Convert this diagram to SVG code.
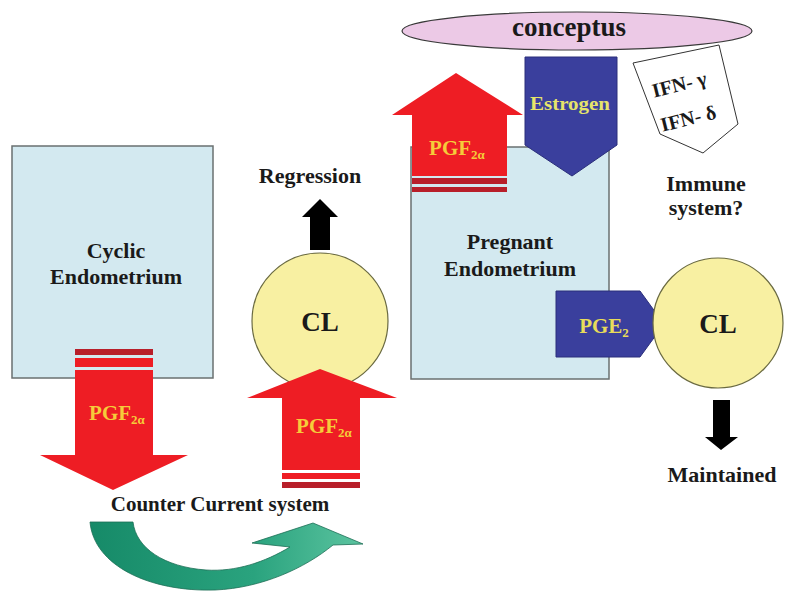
<svg xmlns="http://www.w3.org/2000/svg" width="787" height="592" viewBox="0 0 787 592">
<defs>
<linearGradient id="teal" x1="0" y1="0" x2="1" y2="0">
<stop offset="0" stop-color="#168a68"/>
<stop offset="0.6" stop-color="#2aa37e"/>
<stop offset="1" stop-color="#5cc4a0"/>
</linearGradient>
<style>
text{font-family:"Liberation Serif","Times New Roman",serif;font-weight:bold;text-anchor:middle}
.dark{fill:#1a1a1a}
.lbl{font-size:22px}
.box{fill:#d3e9f0;stroke:#6a7070;stroke-width:1.5}
.circ{fill:#f8f0a2;stroke:#6a6a40;stroke-width:1.2}
.red{fill:#ee1d24}
.stripe{fill:#b81f2a}
.blue{fill:#3a3f9d;stroke:#2a2e7a;stroke-width:1}
.pgf{fill:#f5cc3a;font-size:21px}
.sub{font-size:13px}
</style>
</defs>
<rect width="787" height="592" fill="#ffffff"/>

<g id="cyclic-endometrium">
<rect class="box" x="12" y="146" width="201" height="232"/>
<text class="dark lbl" x="116" y="258">Cyclic</text>
<text class="dark lbl" x="116" y="284">Endometrium</text>
</g>

<g id="pgf-down">
<rect class="stripe" x="75" y="349" width="78" height="6"/>
<rect class="red" x="75" y="358" width="78" height="9"/>
<path class="red" d="M75,370 H153 V455 H188 L113,490 L40,455 H75 Z"/>
<text class="pgf" x="117" y="420">PGF<tspan class="sub" dy="4">2α</tspan></text>
</g>

<g id="cl-left">
<circle class="circ" cx="320" cy="321" r="68"/>
<text class="dark" x="320" y="331" font-size="27">CL</text>
</g>

<g id="pgf-up">
<path class="red" d="M320,369 L397,398 H360 V470 H282 V398 H247 Z"/>
<rect class="red" x="282" y="473" width="78" height="6"/>
<rect class="stripe" x="282" y="482" width="78" height="6"/>
<text class="pgf" x="324" y="433">PGF<tspan class="sub" dy="4">2α</tspan></text>
</g>

<g id="regression">
<text class="dark lbl" x="310" y="183">Regression</text>
<path fill="#000" d="M320,199 L338,217 H330 V250 H310 V217 H302 Z"/>
</g>

<g id="counter-current">
<text class="dark" x="220" y="511" font-size="21">Counter Current system</text>
<path fill="url(#teal)" stroke="#1d6e55" stroke-width="0.8" d="M90,522 C94,566 150,592 215,590 C262,588 305,568 333,545 L363,544 L313,523 L252,543 L290,547 C265,562 236,572 206,570 C164,567 136,548 133,522 Z"/>
</g>

<g id="pregnant-endometrium">
<rect class="box" x="411" y="147" width="198" height="232"/>
<text class="dark lbl" x="510" y="249">Pregnant</text>
<text class="dark lbl" x="510" y="276">Endometrium</text>
</g>

<g id="pgf-up-pregnant">
<path class="red" d="M456,73 L523,115 H507 V176 H412 V115 H392 Z"/>
<rect class="stripe" x="412" y="178" width="95" height="6"/>
<rect class="stripe" x="412" y="187" width="95" height="5"/>
<text class="pgf" x="457" y="155">PGF<tspan class="sub" dy="4">2α</tspan></text>
</g>

<g id="conceptus">
<ellipse cx="577" cy="31" rx="175" ry="19" fill="#ecc9e6" stroke="#3a3a3a" stroke-width="1.2"/>
<text class="dark" x="569" y="36" font-size="27">conceptus</text>
</g>

<g id="estrogen">
<path class="blue" d="M525,57 H617 V145 L572,176 L525,145 Z"/>
<text x="570" y="110" font-size="18" fill="#e6e46a" textLength="80" lengthAdjust="spacingAndGlyphs">Estrogen</text>
</g>

<g id="ifn">
<path fill="#ffffff" stroke="#333" stroke-width="1" d="M633,63 L719,45 L738,124 L703,153 L660,134 Z"/>
<text class="dark" x="681" y="91" font-size="20" transform="rotate(-14 681 91)">IFN- γ</text>
<text class="dark" x="690" y="125" font-size="20" transform="rotate(-14 690 125)">IFN- δ</text>
</g>

<g id="immune">
<text class="dark lbl" x="706" y="191">Immune</text>
<text class="dark lbl" x="706" y="215">system?</text>
</g>

<g id="pge2">
<path class="blue" d="M556,291 H640 L664,324 L640,357 H556 Z"/>
<text x="604" y="333" font-size="21" fill="#e8dc5a">PGE<tspan class="sub" dy="4">2</tspan></text>
</g>

<g id="cl-right">
<circle class="circ" cx="718" cy="323" r="65"/>
<text class="dark" x="718" y="333" font-size="27">CL</text>
</g>

<g id="maintained">
<path fill="#000" d="M713,400 H730 V437 H738 L721,450 L705,437 H713 Z"/>
<text class="dark lbl" x="722" y="482">Maintained</text>
</g>
</svg>
